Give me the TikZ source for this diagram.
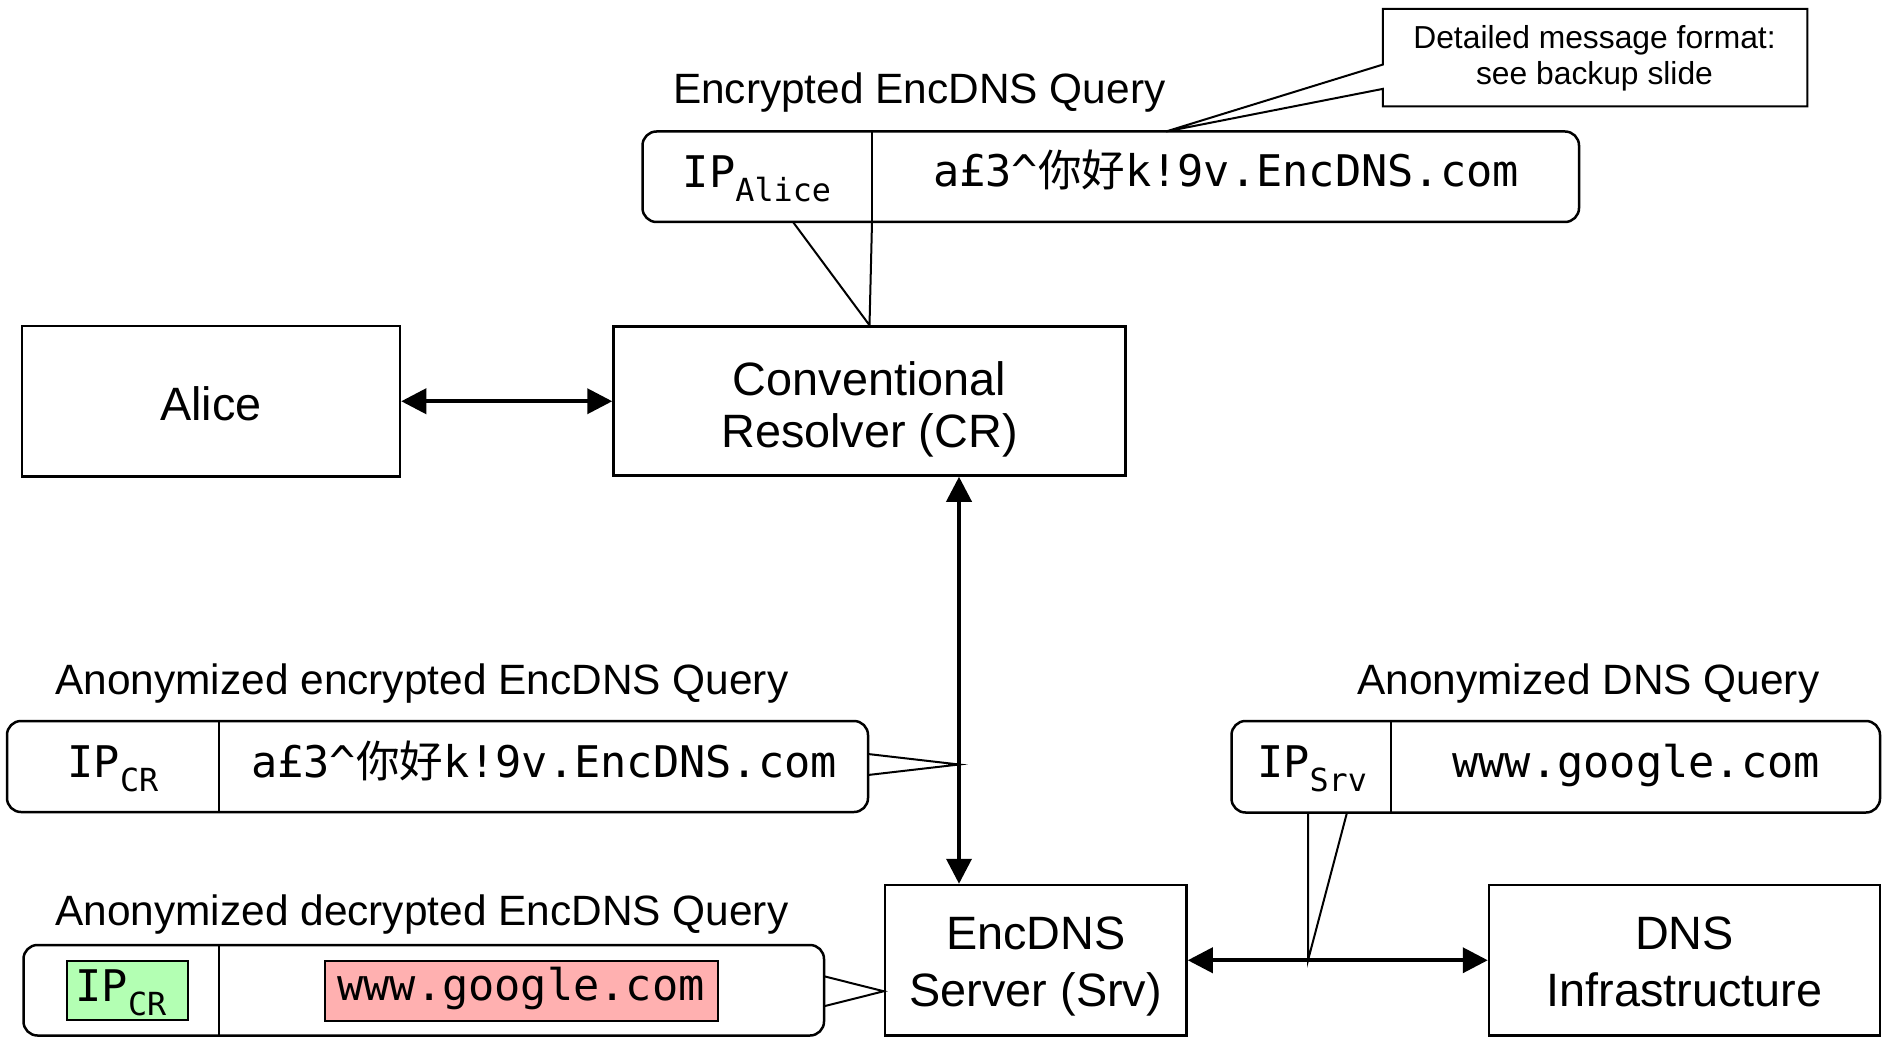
\documentclass[tikz,border=0pt]{standalone}
\usepackage{fontspec}
\setmainfont{Liberation Sans}
\newfontfamily\mono{DejaVu Sans Mono}
\newfontfamily\cjk{Noto Sans CJK SC}
\usetikzlibrary{arrows.meta,calc}
\definecolor{ipgreen}{HTML}{B3FFB3}
\definecolor{namered}{HTML}{FFB0B0}

% address field: IP with a lowered subscript name
\newcommand\ipaddr[1]{{\mono IP\raisebox{-6.8pt}{\fontsize{15.9pt}{18pt}\selectfont #1}}}
% encrypted query name
\newcommand\encname{{\mono a£3\textasciicircum}{\cjk 你好}{\mono k!9v.EncDNS.com}}
\newcommand\twolines[2]{\begin{tabular}[t]{@{}c@{}}#1\\#2\end{tabular}}

\begin{document}
\begin{tikzpicture}[x=0.5pt,y=-0.5pt,
  entity/.style={draw, line width=1.25pt, inner sep=0pt},
  query/.style={draw, line width=1.25pt, rounded corners=7pt, inner sep=0pt, outer sep=0pt},
  divider/.style={line width=1.25pt},
  thinline/.style={line width=1pt},
  link/.style={line width=1.9pt,
    {Triangle[length=12.5pt,width=12.5pt]}-{Triangle[length=12.5pt,width=12.5pt]}},
  entitytext/.style={anchor=base, inner sep=0pt, font=\fontsize{23.4pt}{26.35pt}\selectfont},
  lab/.style={anchor=base west, inner sep=0pt, font=\fontsize{21.2pt}{25pt}\selectfont},
  field/.style={anchor=base, inner sep=0pt, font=\fontsize{21.8pt}{26pt}\selectfont},
  hilite/.style={draw, line width=1pt, inner sep=0pt}]
\useasboundingbox (0,0) rectangle (1882,1037);

% ---- entities ----
\node[entity, minimum width=189pt, minimum height=75.25pt] (alice) at (211,401.25) {};
\node[entity, minimum width=256pt, minimum height=74.5pt] (cr) at (869.5,401) {};
\node[entity, minimum width=150.75pt, minimum height=75.25pt] (srv) at (1035.75,960.25) {};
\node[entity, minimum width=195.5pt, minimum height=75.25pt] (dns) at (1684.5,960.25) {};

\node[entitytext] (alicetext) at (211,420) {Alice};
\node[entitytext] (crtext) at (869.5,395) {\twolines{Conventional}{Resolver (CR)}};
\node[entitytext, font=\fontsize{23.4pt}{28.6pt}\selectfont] (srvtext) at (1035.75,949) {\twolines{EncDNS}{Server (Srv)}};
\node[entitytext, font=\fontsize{23.4pt}{28.6pt}\selectfont] (dnstext) at (1684.5,949) {\twolines{DNS}{Infrastructure}};

% ---- message boxes ----
\node[query, minimum width=468.25pt, minimum height=45.25pt] (q1) at (1110.75,176.75) {};
\node[query, minimum width=430.5pt, minimum height=45.5pt] (q2) at (437.5,766.5) {};
\node[query, minimum width=400.25pt, minimum height=45.25pt] (q3) at (423.75,990.25) {};
\node[query, minimum width=324.25pt, minimum height=45.75pt] (q4) at (1555.75,766.75) {};

\coordinate (d1) at (872,0);
\coordinate (d2) at (219,0);
\coordinate (d4) at (1391,0);
\draw[divider] (d1 |- q1.north) -- (d1 |- q1.south);
\draw[divider] (d2 |- q2.north) -- (d2 |- q2.south);
\draw[divider] (d2 |- q3.north) -- (d2 |- q3.south);
\draw[divider] (d4 |- q4.north) -- (d4 |- q4.south);

% fields
\node[field] (ipalice) at (757,187.5) {\ipaddr{Alice}};
\node[field] (encalice) at (1226,187) {\encname};
\node[field] (ipcr) at (113,777.5) {\ipaddr{CR}};
\node[field] (enccr) at (544,777) {\encname};
\node[hilite, fill=ipgreen, minimum width=60.5pt, minimum height=29.5pt] (ipmark) at (127.8,990.5) {};
\node[field] (ipcrplain) at (121,1001.5) {\ipaddr{CR}};
\node[hilite, fill=namered, minimum width=196.5pt, minimum height=30pt] (namemark) at (521,991) {};
\node[field] (nameplain) at (521,1000.5) {{\mono www.google.com}};
\node[field] (ipsrv) at (1312,777.5) {\ipaddr{Srv}};
\node[field] (namesrv) at (1636,777) {{\mono www.google.com}};

% titles
\node[lab] (t1) at (672.6,104) {Encrypted EncDNS Query};
\node[lab] (t2) at (55,694) {Anonymized encrypted EncDNS Query};
\node[lab] (t3) at (55,925.7) {Anonymized decrypted EncDNS Query};
\node[lab] (t4) at (1357,694) {Anonymized DNS Query};

% ---- connections ----
\coordinate (vx) at (959,0);
\draw[link] (alice.east) -- (alice.east -| cr.west);
\draw[link] (cr.south -| vx) -- (srv.north -| vx);
\draw[link] (srv.east) -- (dns.west);

% pointers from messages to the links they travel on
\draw[thinline] ($(q1.south west)+(150.5,0)$) -- (cr.north) -- (d1 |- q1.south);
\draw[thinline] ($(q2.east)+(0,-12.5)$) -- ($(q2.east -| vx)+(0,-2)$) -- ($(q2.east)+(0,8.5)$);
\draw[thinline] ($(q3.east)+(0,-14)$) -- ($(srv.west |- q3.east)+(0,1)$) -- ($(q3.east)+(0,16)$);
\coordinate (r1) at ($(q4.south west)+(76.5,0)$);
\coordinate (r2) at ($(q4.south west)+(115.5,0)$);
\draw[thinline] (r1) -- (r1 |- srv.east) -- (r2);

% ---- note ----
\node[inner sep=0pt, minimum width=211.85pt, minimum height=48.35pt] (note) at (1595,57.65) {};
\node[anchor=base, inner sep=0pt, font=\fontsize{15.9pt}{18.35pt}\selectfont] (notetext) at (1594.5,48.3)
  {\twolines{Detailed message format:}{see backup slide}};
\coordinate (ntip) at ($(q1.north west)+(523.5,0)$);
\draw[thinline] (ntip) -- ($(note.north west)+(0,55.7)$) -- (note.north west) -- (note.north east)
  -- (note.south east) -- (note.south west) -- ($(note.north west)+(0,80)$) -- cycle;
\end{tikzpicture}
\end{document}
